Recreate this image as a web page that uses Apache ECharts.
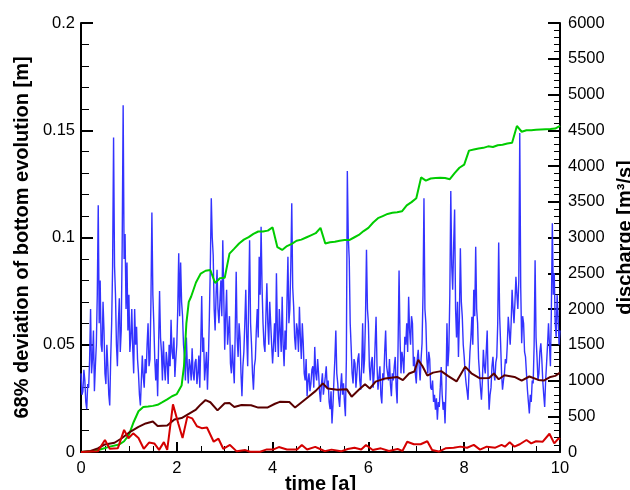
<!DOCTYPE html>
<html>
<head>
<meta charset="utf-8">
<script src="https://cdn.jsdelivr.net/npm/echarts@6/dist/echarts.min.js"></script>
<style>
html, body { margin: 0; padding: 0; background: #fff; }
#chart { width: 630px; height: 490px; }
</style>
</head>
<body>
<div id="chart"></div>
<script>
// discharge: one value every 0.04 a, plus the in-between value (other edge of the noisy band)
var dischargeStep = 0.04;
var dischargeValues = [
  1100, 850, 1000, 600, 900, 2000, 1300, 850, 1500, 3450, 2400, 1400, 1700, 950, 1200, 650, 1800, 4400, 2200, 1200, 2150, 1700, 4850, 3050, 2650,
  2200, 1600, 1450, 2000, 1750, 1100, 650, 1350, 900, 1100, 1800, 1300, 3350, 1800, 1000, 780, 2250, 1400, 1550, 1000, 1250, 1500, 1850, 1300, 1050,
  1500, 2780, 2650, 1900, 1330, 1600, 960, 1200, 1450, 1000, 1300, 1100, 900, 2180, 1600, 1200, 870, 1900, 3550, 2750, 1700, 2550, 1800, 2400, 2960,
  1430, 2270, 1700, 1240, 1500, 960, 2520, 1330, 1600, 780, 1400, 2270, 1200, 2960, 1500, 870, 1300, 2000, 2730, 3150, 1800, 1400, 2360, 1500, 1800,
  1240, 1800, 2500, 1330, 1700, 2170, 1200, 1430, 2730, 2000, 3480, 2030, 1430, 1700, 2030, 1300, 1520, 1000, 780, 1100, 960, 1200, 1470, 1000, 1100,
  700, 1100, 780, 1200, 1000, 600, 400, 1000, 1700, 960, 630, 1100, 960, 500, 3930, 2700, 1470, 960, 1240, 1100, 1380, 870, 1800, 1300, 2830,
  1800, 1000, 1330, 1100, 1890, 870, 1200, 680, 1000, 1700, 1100, 1300, 780, 1000, 1330, 680, 2540, 1100, 1300, 1610, 1800, 2170, 1500, 1800, 1330,
  960, 1430, 1000, 1520, 3550, 1800, 1100, 1300, 870, 700, 590, 450, 630, 1190, 590, 400, 1800, 1430, 3650, 2270, 3390, 1600, 1330, 2850, 1890,
  1330, 960, 730, 1400, 1890, 2270, 2870, 1800, 1100, 730, 1430, 1100, 1700, 590, 900, 1330, 1000, 1330, 2930, 1520, 870, 1100, 1240, 1890, 1500,
  2270, 1800, 2450, 2000, 4460, 1520, 1800, 1330, 870, 540, 700, 960, 2680, 1330, 1100, 1520, 1000, 630, 1240, 1800, 1200, 3200, 2500, 1610, 1890,
  1700
];
var dischargeMidValues = [
  800, 1150, 700, 950, 1300, 1100, 1700, 1200, 2200, 1800, 1500, 2100, 1100, 1500, 800, 1300, 2600, 2600, 1500, 1800, 1400, 2900, 2700, 2000, 1700,
  1400, 2000, 1100, 1500, 1300, 800, 1000, 1050, 1300, 1500, 1200, 2100, 2200, 1300, 1300, 1500, 1600, 1000, 1200, 1400, 950, 1200, 1400, 1600, 1300,
  2000, 1900, 2100, 1500, 1000, 1200, 1300, 1000, 1100, 1250, 950, 1350, 1500, 1400, 1000, 1400, 1300, 2600, 3000, 2000, 2200, 2000, 2100, 1900, 2200,
  1900, 1500, 1900, 1100, 1200, 1700, 1600, 1800, 1100, 1200, 1800, 1600, 2100, 1800, 1100, 1200, 1700, 1600, 2200, 2300, 1500, 1900, 1800, 2100, 1500,
  1500, 1400, 1700, 2000, 1400, 1500, 1700, 2100, 1800, 2600, 2300, 1600, 1800, 1400, 1600, 1800, 1100, 1300, 1000, 850, 1150, 900, 1100, 1300, 850,
  950, 800, 1050, 900, 700, 850, 650, 1300, 1100, 750, 900, 800, 700, 1300, 3000, 1800, 1100, 1300, 900, 1300, 1000, 1200, 1100, 1900, 2000,
  1200, 1250, 900, 1500, 1200, 1050, 800, 1100, 1400, 1200, 1000, 950, 1100, 1200, 900, 1500, 1600, 1400, 1100, 1500, 1400, 1700, 1900, 1200, 1100,
  1300, 1200, 1300, 2200, 2000, 1300, 1400, 900, 1000, 800, 750, 700, 900, 800, 700, 900, 1200, 2200, 2600, 2900, 2000, 2100, 1900, 2100, 1500,
  1100, 850, 1100, 1600, 1500, 1900, 2000, 1300, 900, 1000, 1200, 1400, 1000, 800, 1200, 1100, 1250, 1800, 1900, 1100, 1000, 1300, 1500, 1700, 1800,
  2000, 2100, 2200, 2400, 2300, 1900, 1400, 1100, 700, 800, 1000, 1500, 1600, 1000, 1400, 1300, 800, 1000, 1500, 1500, 2000, 2200, 1800, 2200, 1500
];

var greenTime = [0, 0.2, 0.4, 0.6, 0.8, 0.9, 1.0, 1.1, 1.2, 1.3, 1.4, 1.5, 1.6, 1.7, 1.8, 1.9, 2.0, 2.1, 2.15, 2.2, 2.25, 2.3, 2.4, 2.5, 2.6, 2.7, 2.8, 2.9, 3.0,
  3.1, 3.2, 3.3, 3.4, 3.5, 3.6, 3.7, 3.8, 3.9, 4.0, 4.1, 4.2, 4.3, 4.4, 4.5, 4.6, 4.7, 4.8, 4.9, 5.0, 5.1, 5.2, 5.3, 5.4, 5.5, 5.6, 5.7, 5.8, 5.9, 6.0,
  6.1, 6.2, 6.3, 6.4, 6.5, 6.6, 6.7, 6.8, 6.9, 7.0, 7.1, 7.2, 7.3, 7.4, 7.5, 7.6, 7.7, 7.8, 7.9, 8.0, 8.1, 8.2, 8.3, 8.4, 8.5, 8.6, 8.7, 8.8, 8.9, 9.0,
  9.1, 9.2, 9.3, 9.4, 9.5, 9.6, 9.7, 9.8, 9.9, 10.0];
var greenValues = [0, 0.0003, 0.0012, 0.0025, 0.0035, 0.005, 0.008, 0.014, 0.019, 0.021, 0.0212, 0.0215, 0.022, 0.0232, 0.0245, 0.026, 0.027, 0.031, 0.04, 0.06, 0.07, 0.0725, 0.079, 0.0832, 0.0845, 0.0848, 0.0788, 0.081, 0.0812,
  0.0925, 0.0948, 0.0972, 0.099, 0.1002, 0.1017, 0.1028, 0.1028, 0.1032, 0.1047, 0.0955, 0.0942, 0.096, 0.097, 0.0985, 0.099, 0.1, 0.101, 0.102, 0.1045, 0.0972, 0.0978, 0.098, 0.0985, 0.0988, 0.0988, 0.1, 0.1012, 0.103, 0.1045,
  0.107, 0.109, 0.11, 0.111, 0.1115, 0.1118, 0.1122, 0.115, 0.1165, 0.1183, 0.128, 0.1265, 0.1275, 0.1277, 0.1278, 0.1277, 0.1272, 0.13, 0.1325, 0.134, 0.1405, 0.141, 0.1415, 0.1418, 0.1425, 0.1422, 0.143, 0.1432, 0.1438, 0.1442,
  0.152, 0.1493, 0.15, 0.15, 0.1502, 0.1504, 0.1505, 0.1506, 0.1508, 0.152];

var brownTime = [0, 0.2, 0.35, 0.5, 0.7, 0.85, 1.0, 1.2, 1.35, 1.5, 1.6, 1.8, 1.95, 2.1, 2.25, 2.4, 2.5, 2.6, 2.7, 2.85, 3.0, 3.1, 3.2, 3.35, 3.55, 3.7, 3.9,
  4.05, 4.15, 4.35, 4.47, 4.75, 4.9, 5.05, 5.15, 5.35, 5.55, 5.65, 5.8, 5.93, 6.03, 6.15, 6.35, 6.6, 6.72, 6.85, 6.96, 7.04, 7.13, 7.23, 7.35, 7.52, 7.66, 7.84,
  8.02, 8.15, 8.32, 8.52, 8.62, 8.72, 8.84, 9.05, 9.2, 9.36, 9.55, 9.66, 9.8, 9.9, 10.0];
var brownValues = [0, 0.0005, 0.0017, 0.0035, 0.0043, 0.0064, 0.009, 0.0117, 0.0133, 0.0142, 0.0121, 0.0123, 0.0152, 0.0158, 0.0178, 0.0198, 0.0222, 0.0242, 0.0232, 0.0194, 0.0227, 0.0228, 0.021, 0.0219, 0.0218, 0.0207, 0.0208,
  0.0225, 0.0234, 0.0233, 0.0207, 0.0258, 0.0285, 0.032, 0.0296, 0.029, 0.0292, 0.0258, 0.029, 0.0316, 0.0296, 0.0328, 0.0343, 0.035, 0.0335, 0.0366, 0.0375, 0.043, 0.04, 0.0356, 0.037, 0.0377, 0.0355, 0.0329,
  0.0398, 0.0367, 0.0344, 0.0345, 0.0366, 0.0339, 0.0358, 0.035, 0.0333, 0.0352, 0.0336, 0.0333, 0.035, 0.0355, 0.037];

var redTime = [0, 0.35, 0.5, 0.6, 0.77, 0.9, 0.99, 1.09, 1.2, 1.31, 1.42, 1.53, 1.63, 1.73, 1.8, 1.92, 2.03, 2.12, 2.22, 2.32, 2.42, 2.52, 2.63, 2.77, 2.87, 2.97,
  3.11, 3.25, 3.43, 3.53, 3.74, 3.88, 4.02, 4.13, 4.3, 4.51, 4.61, 4.72, 4.89, 4.99, 5.09, 5.23, 5.43, 5.57, 5.71, 5.85, 5.95, 6.09, 6.26, 6.43, 6.61, 6.71, 6.81, 6.95,
  7.09, 7.23, 7.33, 7.47, 7.61, 7.78, 7.92, 8.06, 8.2, 8.33, 8.47, 8.65, 8.78, 8.85, 8.95, 9.05, 9.16, 9.3, 9.4, 9.5, 9.64, 9.78, 9.88, 9.97, 10.0];
var redValues = [0, 0.0003, 0.0056, 0.0015, 0.0018, 0.0103, 0.0064, 0.0087, 0.0065, 0.0015, 0.0044, 0.004, 0.001, 0.0046, 0.001, 0.0222, 0.0134, 0.0065, 0.0165, 0.0157, 0.012, 0.0111, 0.0114, 0.0048, 0.0062, 0.0015,
  0.0033, 0.0003, 0.0009, 0.0001, 0.0001, 0.0012, 0.0012, 0.0023, 0.0012, 0.0012, 0.0033, 0.0012, 0.0024, 0.0014, 0.0004, 0.0011, 0.0003, 0.0014, 0.002, 0.0012, 0.0033, 0.0009, 0.0017, 0.0005, 0.0014, 0.0005, 0.0048, 0.0036,
  0.0036, 0.005, 0.0009, 0.0002, 0.0017, 0.002, 0.0025, 0.002, 0.0033, 0.0011, 0.0025, 0.002, 0.0033, 0.0025, 0.0045, 0.0025, 0.0036, 0.0056, 0.004, 0.005, 0.0048, 0.0085, 0.004, 0.0064, 0.0058];

function pairs(xs, ys) {
  return ys.map(function (y, i) { return [xs[i], y]; });
}

// interleave the two discharge readings into one trace
var dischargeData = [];
dischargeValues.forEach(function (v, i) {
  dischargeData.push([i * dischargeStep, v]);
  if (i < dischargeMidValues.length) {
    dischargeData.push([(i + 0.5) * dischargeStep, dischargeMidValues[i]]);
  }
});

var chart = echarts.init(document.getElementById('chart'));
var font = 'Liberation Sans, Arial, sans-serif';
var labelStyle = { color: '#000', fontSize: 16.5, fontFamily: font };
var nameStyle = { color: '#000', fontSize: 20, fontWeight: 'bold', fontFamily: font };

var option = {
  animation: false,
  backgroundColor: '#fff',
  grid: { left: 81, right: 70, top: 23, bottom: 38, outerBoundsMode: 'none' },
  xAxis: {
    type: 'value',
    min: 0, max: 10, interval: 2,
    name: 'time [a]',
    nameLocation: 'middle',
    nameGap: 22,
    nameMoveOverlap: false,
    nameTextStyle: nameStyle,
    axisLine: { lineStyle: { color: '#000', width: 2 } },
    axisTick: { inside: true, length: 10, lineStyle: { color: '#000', width: 2 } },
    minorTick: { show: true, splitNumber: 4, length: 6, lineStyle: { color: '#000', width: 1 } },
    axisLabel: Object.assign({ margin: 8 }, labelStyle),
    splitLine: { show: false }
  },
  yAxis: [{
    type: 'value',
    min: 0, max: 0.2, interval: 0.05,
    name: '68% deviation of bottom evolution [m]',
    nameLocation: 'middle',
    nameGap: 44,
    nameTextStyle: nameStyle,
    axisLine: { show: true, lineStyle: { color: '#000', width: 2 } },
    axisTick: { inside: true, length: 12, lineStyle: { color: '#000', width: 2 } },
    minorTick: { show: true, splitNumber: 5, length: 8, lineStyle: { color: '#000', width: 1 } },
    axisLabel: Object.assign({ margin: 6 }, labelStyle),
    splitLine: { show: false }
  }, {
    type: 'value',
    position: 'right',
    min: 0, max: 6000, interval: 500,
    name: 'discharge [m³/s]',
    nameLocation: 'middle',
    nameGap: 47,
    nameRotate: 90,
    nameTextStyle: nameStyle,
    axisLine: { show: true, lineStyle: { color: '#000', width: 2 } },
    axisTick: { inside: true, length: 12, lineStyle: { color: '#000', width: 2 } },
    minorTick: { show: true, splitNumber: 5, length: 6, lineStyle: { color: '#000', width: 1 } },
    axisLabel: Object.assign({ margin: 8, formatter: function (v) { return String(v); } }, labelStyle),
    splitLine: { show: false }
  }],
  series: [{
    name: 'discharge',
    type: 'line',
    yAxisIndex: 1,
    symbol: 'none',
    lineStyle: { color: '#3333ff', width: 1.4 },
    data: dischargeData
  }, {
    name: 'green',
    type: 'line',
    symbol: 'none',
    lineStyle: { color: '#00cc00', width: 2 },
    data: pairs(greenTime, greenValues)
  }, {
    name: 'brown',
    type: 'line',
    symbol: 'none',
    lineStyle: { color: '#5a0000', width: 2 },
    data: pairs(brownTime, brownValues)
  }, {
    name: 'red',
    type: 'line',
    symbol: 'none',
    lineStyle: { color: '#d40000', width: 2 },
    data: pairs(redTime, redValues)
  }]
};

chart.setOption(option);
</script>
</body>
</html>
